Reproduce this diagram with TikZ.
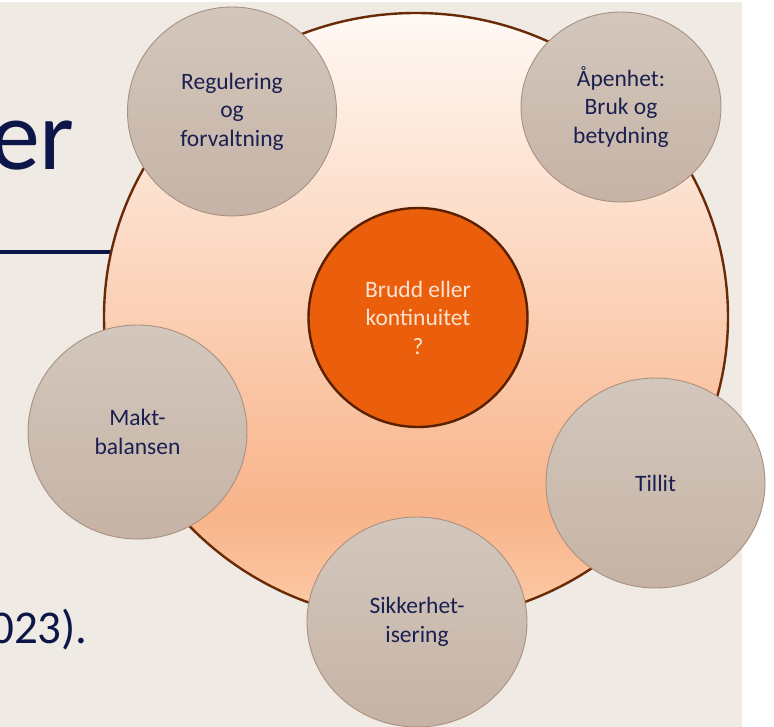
\documentclass[tikz,border=0pt]{standalone}
\usepackage{fontspec}
\setmainfont{Carlito}
\usetikzlibrary{shapes.geometric}
\definecolor{bgbeige}{HTML}{EFEBE4}
\definecolor{titlenavy}{HTML}{0C1648}
\definecolor{textnavy}{HTML}{1A1F52}
\definecolor{bigA}{HTML}{FCCBA8}
\definecolor{bigB}{HTML}{F8B48A}
\definecolor{bigC}{HTML}{FFF9F5}
\definecolor{bigedge}{HTML}{6A2A08}
\definecolor{coreorange}{HTML}{EB5E0B}
\definecolor{coreedge}{HTML}{5A2002}
\definecolor{coretext}{HTML}{FBE3D2}
\definecolor{satTop}{HTML}{D3C7BD}
\definecolor{satBot}{HTML}{C6B3A5}
\definecolor{satedge}{HTML}{A8917F}
\pgfdeclareverticalshading{bigshade}{100bp}{color(0bp)=(bigA); color(25bp)=(bigA); color(34bp)=(bigB); color(75bp)=(bigC); color(100bp)=(bigC)}
\tikzset{
  sat/.style={ellipse, inner sep=0pt, draw=satedge, line width=0.9pt,
    top color=satTop, bottom color=satBot, text=textnavy, align=center,
    font=\fontsize{23.5}{28.5}\selectfont},
}
\begin{document}
\begin{tikzpicture}[x=1pt,y=-1pt]
\useasboundingbox (0,0) rectangle (774,727);
\fill[white] (0,0) rectangle (774,727);
\fill[bgbeige] (0,2) rectangle (742,727);
% title fragments
\node[anchor=base east, inner sep=0pt, text=titlenavy, font=\fontsize{100}{100}\selectfont] (title) at (75,170) {er};
\node[anchor=base east, inner sep=0pt, text=titlenavy, font=\fontsize{47}{47}\selectfont] (ref) at (88,643) {023).};
\coordinate (lineL) at (0,252);
\coordinate (lineR) at (160,252);
\draw[titlenavy, line width=3.6pt] (lineL) -- (lineR);
% big circle
\node[ellipse, inner sep=0pt, minimum width=624pt, minimum height=608pt, shading=bigshade, draw=bigedge, line width=2.4pt] (big) at (416,317) {};
% core
\node[circle, inner sep=0pt, minimum size=219pt, fill=coreorange, draw=coreedge, line width=2.4pt, text=coretext, align=center, font=\fontsize{23.5}{28.5}\selectfont] (core) at (418,317.5) {Brudd eller\\kontinuitet\\?};
% satellites
\node[sat, minimum width=209pt, minimum height=209pt] (reg) at (232,111.5) {Regulering\\og\\forvaltning};
\node[sat, minimum width=200pt, minimum height=190pt] (open) at (621,107) {Åpenhet:\\Bruk og\\betydning};
\node[sat, minimum width=219pt, minimum height=214pt] (makt) at (137.5,432) {Makt-\\balansen};
\node[sat, minimum width=219pt, minimum height=210pt] (tillit) at (655.5,483) {Tillit};
\node[sat, minimum width=220pt, minimum height=210pt] (sikk) at (417,622) {Sikkerhet-\\isering};
\end{tikzpicture}
\end{document}
